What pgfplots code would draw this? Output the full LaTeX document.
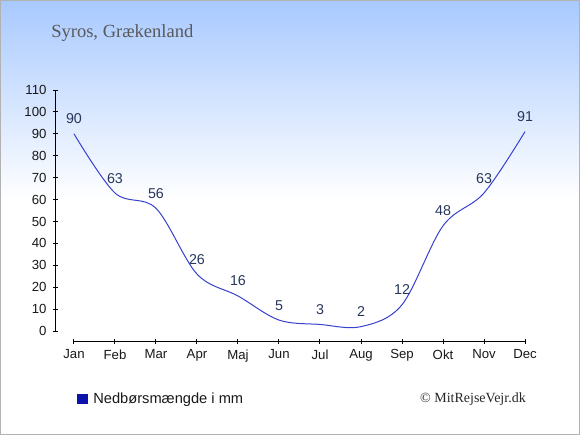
\documentclass[border=0pt]{standalone}
\usepackage{pgfplots}
\pgfplotsset{compat=1.18}
\usepackage{fontspec}
\setmainfont{Liberation Serif}
\setsansfont{Liberation Sans}
\definecolor{bgtop}{RGB}{168,201,255}
\definecolor{curve}{RGB}{55,65,205}
\definecolor{lab}{RGB}{40,55,90}
\definecolor{leg}{RGB}{10,20,170}
\begin{document}
\begin{tikzpicture}
\shade[top color=bgtop, bottom color=white] (0,0) rectangle (435pt,-150pt);
\fill[white] (0,-150pt) rectangle (435pt,-326.25pt);
\draw[black!30, line width=0.75pt] (0.375pt,-0.375pt) rectangle (434.625pt,-325.875pt);
\node[anchor=base west, inner sep=0pt, text=black!65, font=\rmfamily\fontsize{13.9}{16}\selectfont] at (38.25pt,-27.9pt) {Syros, Grækenland};
\begin{axis}[
  at={(41.25pt,-255.75pt)}, anchor=south west,
  scale only axis, width=352.5pt, height=188.25pt,
  xmin=-0.463, xmax=11, ymin=-4.56, ymax=110,
  clip=false,
  axis lines*=left,
  axis line style={black, line width=0.75pt},
  x axis line style={shorten <=14.25pt},
  y axis line style={shorten <=7.5pt},
  xtick={0,...,11},
  xticklabels={Jan,Feb,Mar,Apr,Maj,Jun,Jul,Aug,Sep,Okt,Nov,Dec},
  ytick={0,10,...,110},
  tick align=center,
  major tick length=3.75pt,
  tick style={black, line width=0.75pt},
  /pgf/number format/assume math mode=true,
  tick label style={font=\sffamily\fontsize{9.9}{11}\selectfont, text=black!90},
  yticklabel style={anchor=east, xshift=-1pt},
  xticklabel style={anchor=north, yshift=-1pt},
]
\addplot[curve, line width=0.75pt, smooth, tension=0.55,
  nodes near coords,
  nodes near coords style={font=\sffamily\fontsize{10.7}{12}\selectfont, text=lab, anchor=south, inner sep=0pt, yshift=7pt}]
  coordinates {(0,90) (1,63) (2,56) (3,26) (4,16) (5,5) (6,3) (7,2) (8,12) (9,48) (10,63) (11,91)};
\end{axis}
\fill[leg] (57.75pt,-295.5pt) rectangle (66pt,-303pt);
\node[anchor=base west, inner sep=0pt, font=\sffamily\fontsize{11}{13}\selectfont, text=black!90] at (69.75pt,-302.25pt) {Nedbørsmængde i mm};
\node[anchor=base east, inner sep=0pt, font=\rmfamily\fontsize{10.5}{12}\selectfont, text=black!85] at (394.5pt,-301.5pt) {© MitRejseVejr.dk};
\end{tikzpicture}
\end{document}
